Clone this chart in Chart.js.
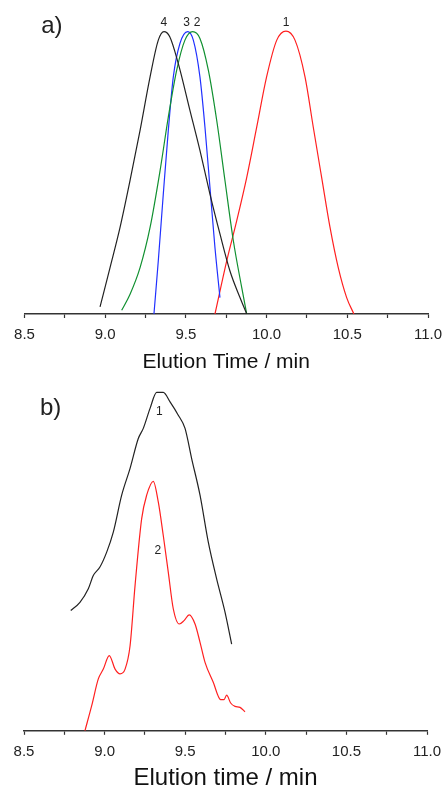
<!DOCTYPE html>
<html>
<head>
<meta charset="utf-8">
<script src="https://cdn.jsdelivr.net/npm/chart.js@4.4.1/dist/chart.umd.min.js"></script>
<style>
  html, body { margin: 0; padding: 0; background: #fff; overflow: hidden; }
  body { width: 445px; height: 787px; position: relative; }
  .panel { position: absolute; left: 0; width: 445px; }
  #panel-a { top: 0; height: 380px; }
  #panel-b { top: 380px; height: 408px; }
</style>
</head>
<body>
<div class="panel" id="panel-a"><canvas id="chart-a"></canvas></div>
<div class="panel" id="panel-b"><canvas id="chart-b"></canvas></div>
<script>
// Panel a) elution time (min) and normalised detector response
const a1Time = [9.68, 9.753, 9.815, 9.877, 9.939, 10.0, 10.063, 10.12, 10.176, 10.238, 10.289, 10.341, 10.393, 10.444, 10.496, 10.541];
const a1Resp = [0, 0.188, 0.33, 0.483, 0.661, 0.838, 0.968, 1.0, 0.968, 0.838, 0.661, 0.483, 0.306, 0.164, 0.058, 0];

const a2Time = [9.102, 9.154, 9.216, 9.278, 9.34, 9.391, 9.443, 9.494, 9.542, 9.587, 9.639, 9.691, 9.742, 9.794, 9.846, 9.877];
const a2Resp = [0.013, 0.07, 0.164, 0.306, 0.507, 0.696, 0.862, 0.968, 0.998, 0.974, 0.862, 0.684, 0.472, 0.259, 0.093, 0];

const a3Time = [9.302, 9.329, 9.36, 9.391, 9.422, 9.463, 9.511, 9.546, 9.587, 9.618, 9.649, 9.68, 9.711];
const a3Resp = [0, 0.188, 0.424, 0.649, 0.838, 0.956, 0.998, 0.968, 0.838, 0.661, 0.448, 0.235, 0.058];

const a4Time = [8.968, 9.03, 9.092, 9.154, 9.216, 9.278, 9.329, 9.364, 9.40, 9.453, 9.525, 9.587, 9.649, 9.711, 9.773, 9.835, 9.877];
const a4Resp = [0.025, 0.164, 0.306, 0.472, 0.649, 0.838, 0.968, 0.998, 0.98, 0.885, 0.72, 0.578, 0.424, 0.283, 0.152, 0.058, 0];

// Panel b)
const b1Time = [8.79, 8.847, 8.899, 8.93, 8.971, 9.013, 9.054, 9.106, 9.158, 9.209, 9.24, 9.282, 9.323, 9.364, 9.406, 9.457, 9.499, 9.54, 9.592, 9.643, 9.695, 9.747, 9.788];
const b1Resp = [0.355, 0.379, 0.419, 0.458, 0.483, 0.527, 0.586, 0.695, 0.774, 0.862, 0.892, 0.951, 0.998, 0.998, 0.97, 0.931, 0.892, 0.803, 0.695, 0.557, 0.448, 0.35, 0.256];

const b2Time = [8.878, 8.92, 8.961, 8.992, 9.029, 9.065, 9.096, 9.127, 9.158, 9.189, 9.23, 9.261, 9.302, 9.333, 9.364, 9.395, 9.426, 9.463, 9.493, 9.525, 9.561, 9.592, 9.623, 9.674, 9.72, 9.741, 9.757, 9.782, 9.809, 9.84, 9.871];
const b2Resp = [0, 0.074, 0.153, 0.182, 0.222, 0.182, 0.168, 0.182, 0.251, 0.429, 0.626, 0.695, 0.736, 0.675, 0.576, 0.468, 0.36, 0.315, 0.325, 0.342, 0.315, 0.261, 0.202, 0.143, 0.092, 0.092, 0.105, 0.082, 0.072, 0.069, 0.056];

const xMin = 8.5;
const xMax = 11.0;
const xStep = 0.25;

const FONT = '"Liberation Sans", Arial, sans-serif';

/**
 * Turn two arrays into {x, y} points
 */
function toPoints(xs, ys) {
  return xs.map((x, i) => ({ x: x, y: ys[i] }));
}

function lineSet(xs, ys, color) {
  return {
    data: toPoints(xs, ys),
    borderColor: color,
    borderWidth: 1.2,
    pointRadius: 0,
    fill: false,
    tension: 0.4,
    cubicInterpolationMode: 'monotone'
  };
}

/**
 * Text labels placed in data coordinates
 */
const labelPlugin = {
  id: 'textLabels',
  afterDatasetsDraw(chart, args, opts) {
    const { ctx, scales } = chart;
    ctx.save();
    ctx.textAlign = 'center';
    ctx.textBaseline = 'middle';
    (opts.items || []).forEach(item => {
      ctx.fillStyle = item.color || '#222';
      ctx.font = item.size + 'px ' + FONT;
      ctx.fillText(item.text, scales.x.getPixelForValue(item.x), scales.y.getPixelForValue(item.y));
    });
    ctx.restore();
  }
};

function makeOptions(cfg) {
  return {
    responsive: true,
    maintainAspectRatio: false,
    animation: false,
    layout: { padding: cfg.padding },
    plugins: {
      legend: { display: false },
      tooltip: { enabled: false },
      textLabels: { items: cfg.labels }
    },
    scales: {
      x: {
        type: 'linear',
        min: xMin,
        max: xMax,
        // let the layout padding alone decide the plot width
        afterFit: scale => { scale.paddingLeft = 0; scale.paddingRight = 0; },
        border: { display: true, color: '#333', width: 1.5 },
        grid: { drawOnChartArea: false, drawTicks: true, tickLength: 4, tickColor: '#333', tickWidth: 1.2 },
        ticks: {
          stepSize: xStep,
          autoSkip: false,
          maxRotation: 0,
          padding: cfg.tickPad,
          color: '#222',
          font: { family: FONT, size: 15 },
          callback: v => (Math.abs(v * 2 - Math.round(v * 2)) < 1e-6 ? v.toFixed(1) : '')
        },
        title: {
          display: true,
          text: cfg.title,
          color: '#111',
          font: { family: FONT, size: cfg.titleSize, lineHeight: cfg.titleLine },
          padding: cfg.titlePad
        }
      },
      y: {
        display: false,
        min: 0,
        max: cfg.yMax
      }
    }
  };
}

new Chart(document.getElementById('chart-a'), {
  type: 'line',
  data: {
    datasets: [
      lineSet(a4Time, a4Resp, '#222222'),
      lineSet(a2Time, a2Resp, '#109030'),
      lineSet(a3Time, a3Resp, '#2030ff'),
      lineSet(a1Time, a1Resp, '#ff2020')
    ]
  },
  options: makeOptions({
    padding: { top: 10, left: 24.5, right: 17, bottom: 7 },
    yMax: 1.0745,
    tickPad: 8,
    title: 'Elution Time / min',
    titleSize: 21,
    titleLine: 1.0,
    titlePad: { top: 0, bottom: 0 },
    labels: [
      { text: 'a)', x: 8.67, y: 1.015, size: 24 },
      { text: '4', x: 9.363, y: 1.03, size: 12 },
      { text: '3', x: 9.505, y: 1.03, size: 12 },
      { text: '2', x: 9.57, y: 1.03, size: 12 },
      { text: '1', x: 10.12, y: 1.03, size: 12 }
    ]
  }),
  plugins: [labelPlugin]
});

new Chart(document.getElementById('chart-b'), {
  type: 'line',
  data: {
    datasets: [
      lineSet(b1Time, b1Resp, '#222222'),
      lineSet(b2Time, b2Resp, '#ff2020')
    ]
  },
  options: makeOptions({
    padding: { top: 5, left: 24, right: 18, bottom: 0 },
    yMax: 1.02,
    tickPad: 8,
    title: 'Elution time / min',
    titleSize: 24,
    titleLine: 0.8,
    titlePad: { top: 0, bottom: 0 },
    labels: [
      { text: 'b)', x: 8.665, y: 0.95, size: 24 },
      { text: '1', x: 9.34, y: 0.94, size: 12 },
      { text: '2', x: 9.33, y: 0.53, size: 12 }
    ]
  }),
  plugins: [labelPlugin]
});
</script>
</body>
</html>
